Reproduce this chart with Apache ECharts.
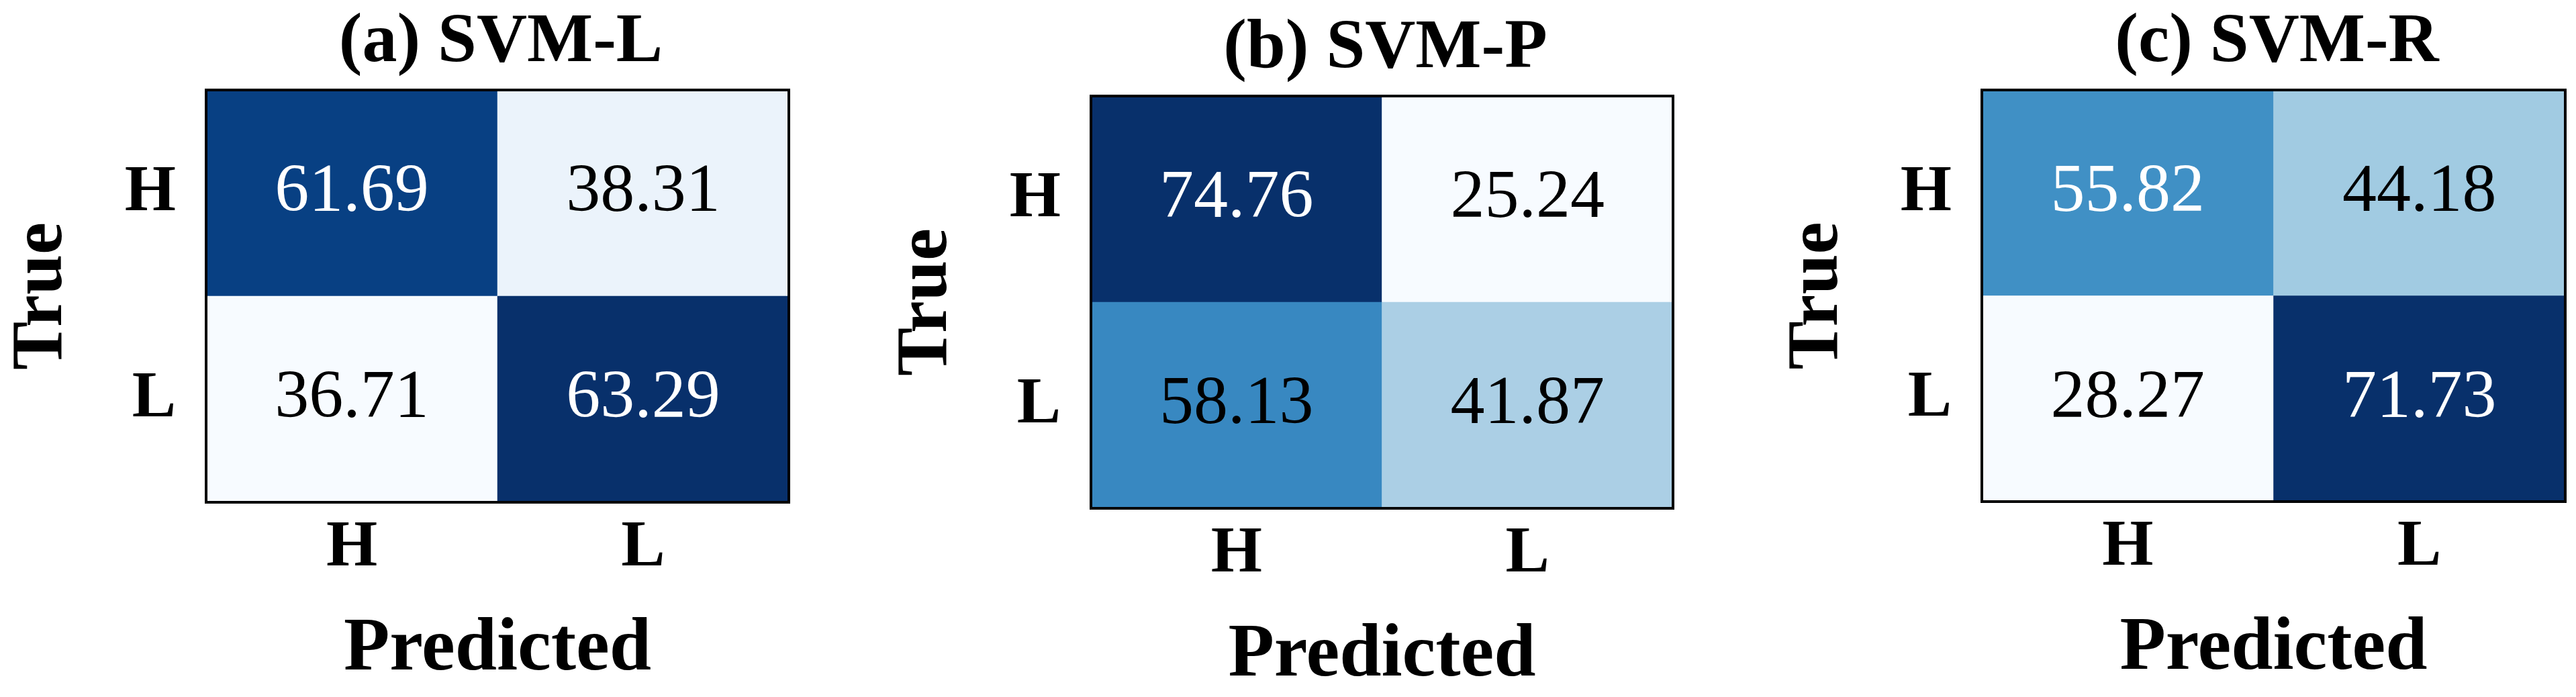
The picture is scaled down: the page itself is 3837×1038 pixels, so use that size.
<!DOCTYPE html>
<html>
<head>
<meta charset="utf-8">
<script src="https://cdn.jsdelivr.net/npm/echarts@6/dist/echarts.min.js"></script>
<style>
  html, body { margin: 0; padding: 0; background: #ffffff; }
  #chart { width: 3837px; height: 1038px; }
</style>
</head>
<body>
<div id="chart"></div>
<script>
// ---- data ----
const categories = ['H', 'L'];
const panelTitles = ['(a) SVM-L', '(b) SVM-P', '(c) SVM-R'];
const xAxisName = 'Predicted';
const yAxisName = 'True';
// rows = True (H, L), columns = Predicted (H, L)
const svmL = [[61.69, 38.31], [36.71, 63.29]];
const svmP = [[74.76, 25.24], [58.13, 41.87]];
const svmR = [[55.82, 44.18], [28.27, 71.73]];
const matrices = [svmL, svmP, svmR];
// text colour of each cell's value (style)
const textColL = [['#ffffff', '#000000'], ['#000000', '#ffffff']];
const textColP = [['#ffffff', '#000000'], ['#000000', '#000000']];
const textColR = [['#ffffff', '#000000'], ['#000000', '#ffffff']];
const textCols = [textColL, textColP, textColR];

// ---- layout / style ----
const blues = ['#f7fbff', '#deebf7', '#c6dbef', '#9ecae1', '#6baed6', '#4292c6', '#2171b5', '#08519c', '#08306b'];
const layout = [
  { left: 307, top: 134, width: 868, height: 614 },
  { left: 1625, top: 143, width: 867, height: 615 },
  { left: 2952, top: 134, width: 869, height: 613 }
];
const serif = 'Liberation Serif, Times New Roman, serif';

const grids = [], xAxes = [], yAxes = [], series = [], visualMaps = [], titles = [];
matrices.forEach((m, i) => {
  const L = layout[i];
  grids.push({
    left: L.left, top: L.top, width: L.width, height: L.height,
    show: true, z: 10, borderColor: '#000000', borderWidth: 4, backgroundColor: 'transparent'
  });
  xAxes.push({
    type: 'category', gridIndex: i, data: categories, position: 'bottom',
    axisLine: { show: false }, axisTick: { show: false }, splitLine: { show: false },
    axisLabel: { margin: 20, fontFamily: serif, fontWeight: 'bold', fontSize: 98, color: '#000' },
    name: xAxisName, nameLocation: 'middle', nameGap: 164,
    nameTextStyle: { fontFamily: serif, fontWeight: 'bold', fontSize: 112, color: '#000' }
  });
  yAxes.push({
    type: 'category', gridIndex: i, data: categories, inverse: true,
    axisLine: { show: false }, axisTick: { show: false }, splitLine: { show: false },
    axisLabel: { margin: 45, fontFamily: serif, fontWeight: 'bold', fontSize: 98, color: '#000' },
    name: yAxisName, nameLocation: 'middle', nameGap: 190, nameRotate: 90,
    nameTextStyle: { fontFamily: serif, fontWeight: 'bold', fontSize: 108, color: '#000' }
  });
  const data = [];
  let mn = Infinity, mx = -Infinity;
  m.forEach((row, r) => row.forEach((v, c) => {
    mn = Math.min(mn, v); mx = Math.max(mx, v);
    data.push({ value: [c, r, v], label: { color: textCols[i][r][c] } });
  }));
  series.push({
    type: 'heatmap', xAxisIndex: i, yAxisIndex: i, data: data,
    label: {
      show: true, fontFamily: serif, fontSize: 102,
      formatter: p => p.value[2].toFixed(2)
    },
    itemStyle: { borderWidth: 0 },
    emphasis: { disabled: true }
  });
  visualMaps.push({
    show: false, seriesIndex: i, dimension: 2, min: mn, max: mx,
    inRange: { color: blues }
  });
  titles.push({
    text: panelTitles[i], left: L.left + L.width / 2, top: (i === 1 ? 16 : 7),
    textAlign: 'center',
    textStyle: { fontFamily: serif, fontWeight: 'bold', fontSize: 104, color: '#000' }
  });
});

const chart = echarts.init(document.getElementById('chart'), null, { renderer: 'canvas' });
chart.setOption({
  backgroundColor: '#ffffff',
  animation: false,
  title: titles,
  grid: grids,
  xAxis: xAxes,
  yAxis: yAxes,
  visualMap: visualMaps,
  series: series
});
</script>
</body>
</html>
